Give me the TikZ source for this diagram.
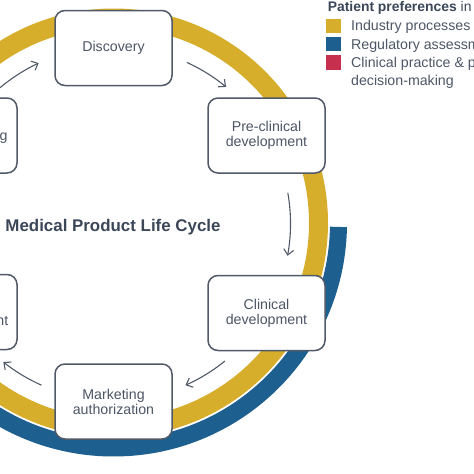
\documentclass[tikz,border=0pt]{standalone}
\usepackage{fontspec}
\setmainfont{Liberation Sans}
\usetikzlibrary{arrows.meta,calc}
\definecolor{ringyellow}{HTML}{D6AE2C}
\definecolor{ringblue}{HTML}{1D5F8E}
\definecolor{legred}{HTML}{C72F4E}
\definecolor{boxline}{HTML}{505967}
\definecolor{boxtext}{HTML}{4D5666}
\definecolor{titletext}{HTML}{3B4759}
\begin{document}
\begin{tikzpicture}[x=1pt,y=1pt,
  stage/.style={draw=boxline, line width=1.5pt, fill=white, rounded corners=10pt,
    minimum width=117pt, minimum height=75pt, align=center, text=boxtext,
    font=\fontsize{14.2}{15}\selectfont, inner sep=0pt},
  stagetext/.style={text=boxtext, font=\fontsize{14.2}{15}\selectfont, inner sep=0pt},
  flow/.style={draw=boxline, line width=1.1pt, -{Straight Barb[length=5.5pt,width=10pt]}},
  legbox/.style={minimum width=15pt, minimum height=14.5pt, inner sep=0pt},
  legtext/.style={text=boxtext, font=\fontsize{14.2}{15}\selectfont, inner sep=0pt, anchor=base west}]
\useasboundingbox (0,0) rectangle (474,-474);
% rings
\coordinate (rc) at (113.5,-223);
\draw[ringyellow, line width=19pt] (rc) circle[radius=205];
\coordinate (bs) at ($(rc)+(-1:225)$);
\draw[ringblue, line width=17pt] (bs) arc[start angle=-1, end angle=-200, radius=225];
% stages
\node[stage] (disc) at (113.5,-48) {Discovery};
\node[stage] (pre) at (266.5,-135.5) {Pre-clinical\\development};
\node[stage] (clin) at (266.5,-313) {Clinical\\development};
\node[stage] (mkt) at (113.5,-401.5) {Marketing\\authorization};
\node[stage] (lt) at (-41.5,-135.5) {};
\node[stage] (lb) at (-41.5,-312) {};
\node[stagetext, anchor=base east] (ltt) at (7.8,-140.2) {g};
\node[stagetext, anchor=base east] (lbt) at (8.5,-325) {nt};
% flow arrows
\coordinate (ac) at (113.5,-223.5);
\coordinate (f1) at ($(ac)+(130.5:177)$);
\coordinate (f2) at ($(ac)+(65.5:177)$);
\coordinate (f3) at ($(ac)+(10:177)$);
\coordinate (f4) at ($(ac)+(-51:177)$);
\coordinate (f5) at ($(ac)+(-114:177)$);
\draw[flow] (f1) arc[start angle=130.5, end angle=115, radius=177];
\draw[flow] (f2) arc[start angle=65.5, end angle=50.5, radius=177];
\draw[flow] (f3) arc[start angle=10, end angle=-10.5, radius=177];
\draw[flow] (f4) arc[start angle=-51, end angle=-66, radius=177];
\draw[flow] (f5) arc[start angle=-114, end angle=-128.5, radius=177];
% title
\node[anchor=base, text=titletext, font=\fontsize{16.9}{18}\selectfont\bfseries, inner sep=0pt] (title) at (113,-231.7) {Medical Product Life Cycle};
% legend
\node[anchor=base west, text=titletext, font=\fontsize{13.9}{15}\selectfont, inner sep=0pt] (legt) at (327.6,-11) {\textbf{Patient preferences} in};
\node[legbox, fill=ringyellow] (ly) at (333.5,-26) {};
\node[legbox, fill=ringblue] (lbl) at (333.5,-44.2) {};
\node[legbox, fill=legred] (lr) at (333.5,-62.4) {};
\node[legtext] (l1) at (351,-30.8) {Industry processes};
\node[legtext] (l2) at (351,-49) {Regulatory assessm};
\node[legtext] (l3) at (351,-67.2) {Clinical practice \& p};
\node[legtext] (l4) at (351,-85.4) {decision-making};
\end{tikzpicture}
\end{document}
